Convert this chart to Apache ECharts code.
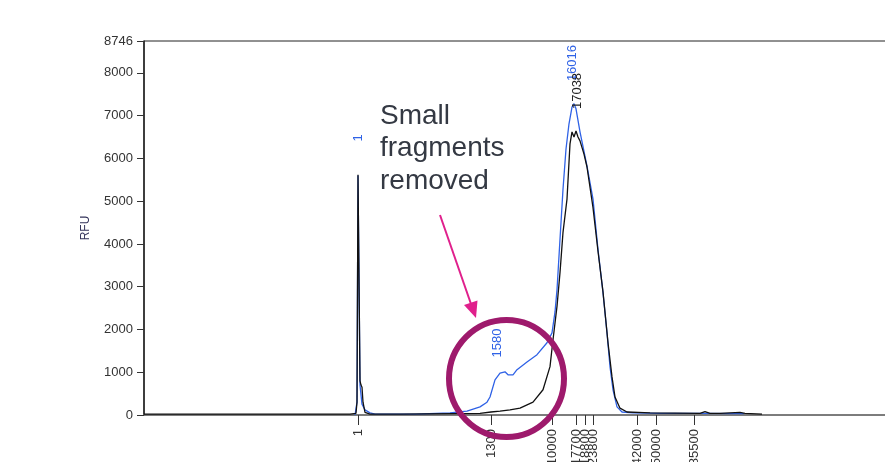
<!DOCTYPE html>
<html>
<head>
<meta charset="utf-8">
<script src="https://cdn.jsdelivr.net/npm/echarts@6/dist/echarts.min.js"></script>
<style>
  html, body { margin: 0; padding: 0; background: #fff; }
  #chart { width: 885px; height: 462px; }
</style>
</head>
<body>
<div id="chart"></div>
<script>
// x is the migration position along the trace (scan units), y is RFU
const blackTrace = [
  [0, 20], [206, 20], [212, 40], [213, 300], [214, 5620], [215, 5630], [216, 800],
  [217, 700], [218, 650], [219, 300], [221, 60], [226, 20], [256, 20], [336, 40],
  [347, 70], [356, 90], [366, 120], [376, 160], [389, 300], [399, 590], [406, 1130],
  [409, 1760], [413, 2540], [416, 3330], [419, 4270], [423, 5050], [426, 6340],
  [428, 6620], [430, 6500], [432, 6640], [434, 6500], [436, 6410], [440, 6100],
  [443, 5800], [449, 4850], [454, 3830], [459, 2880], [464, 1690], [468, 890],
  [471, 420], [476, 160], [483, 70], [506, 50], [556, 40], [561, 80], [566, 40],
  [576, 40], [596, 60], [601, 40], [618, 20]
];
const blueTrace = [
  [211, 0], [213, 300], [214, 5600], [215, 5600], [216, 700], [218, 250], [221, 120],
  [226, 50], [231, 20], [271, 20], [306, 50], [323, 90], [336, 190], [343, 300],
  [346, 420], [351, 820], [356, 980], [361, 1010], [364, 940], [369, 940], [373, 1060],
  [383, 1240], [393, 1410], [403, 1690], [408, 1920], [411, 2410], [413, 2930],
  [416, 4110], [419, 5280], [422, 6220], [425, 6810], [428, 7200], [430, 7280],
  [432, 7160], [436, 6620], [443, 5820], [449, 5050], [454, 3870], [459, 2860],
  [463, 1920], [466, 1130], [469, 590], [473, 190], [478, 70], [489, 50], [516, 40],
  [556, 40], [600, 30]
];

// size calls (bp) shown under the axis and where they sit on the trace
const sizeLabels = ['1', '1300', '10000', '17700', '18800', '23800', '42000', '50000', '85500'];
const sizePositions = [214, 347.5, 408, 432.7, 441, 449.3, 493.3, 512, 550];

const yTicks = [0, 1000, 2000, 3000, 4000, 5000, 6000, 7000, 8000, 8746];

// peak calls
const bluePeakNames = ['1', '1580', '16016'];
const bluePeakPoints = [[214, 5600], [353, 900], [428, 7200]];
const blackPeakNames = ['17038'];
const blackPeakPoints = [[433, 6640]];

const blue = '#2f62e6';
const black = '#111111';

function peakMarks(names, points, gaps, color) {
  return {
    symbol: 'circle',
    symbolSize: 0,
    silent: true,
    label: {
      show: true,
      position: 'top',
      rotate: 90,
      align: 'left',
      verticalAlign: 'middle',
      color: color,
      fontSize: 13,
      fontFamily: 'Liberation Sans, Arial, sans-serif',
      formatter: p => p.name
    },
    data: names.map((n, i) => ({
      name: n,
      coord: points[i],
      label: { distance: gaps[i] }
    }))
  };
}

const chart = echarts.init(document.getElementById('chart'));
chart.setOption({
  animation: false,
  grid: {
    left: 144, right: -3, top: 41, bottom: 47,
    containLabel: false,
    outerBoundsMode: 'none',
    show: true, borderColor: '#222', borderWidth: 1
  },
  xAxis: {
    type: 'value',
    min: 0,
    max: 744,
    axisLine: { lineStyle: { color: '#777', width: 1.5 } },
    axisTick: {
      show: true, length: 10, customValues: sizePositions,
      lineStyle: { color: '#333' }
    },
    axisLabel: {
      customValues: sizePositions,
      rotate: 90,
      margin: 14,
      fontSize: 13,
      color: '#333',
      fontFamily: 'Liberation Sans, Arial, sans-serif',
      formatter: v => sizeLabels[sizePositions.indexOf(v)]
    },
    splitLine: { show: false }
  },
  yAxis: {
    type: 'value',
    min: 0,
    max: 8746,
    name: 'RFU',
    nameLocation: 'middle',
    nameGap: 52,
    nameTextStyle: { color: '#33335a', fontSize: 12, fontFamily: 'Liberation Sans, Arial, sans-serif' },
    axisLine: { show: true, lineStyle: { color: '#222', width: 1.5 } },
    axisTick: { show: true, length: 7, customValues: yTicks, lineStyle: { color: '#333' } },
    axisLabel: {
      customValues: yTicks,
      margin: 11,
      fontSize: 13,
      color: '#333',
      fontFamily: 'Liberation Sans, Arial, sans-serif',
      formatter: v => String(v)
    },
    splitLine: { show: false }
  },
  series: [
    {
      name: 'After',
      type: 'line',
      data: blueTrace,
      symbol: 'none',
      z: 2,
      lineStyle: { color: blue, width: 1.3 },
      markPoint: peakMarks(bluePeakNames, bluePeakPoints, [34, 19, 26], blue)
    },
    {
      name: 'Before',
      type: 'line',
      data: blackTrace,
      symbol: 'none',
      z: 3,
      lineStyle: { color: black, width: 1.3 },
      markPoint: peakMarks(blackPeakNames, blackPeakPoints, [22], '#222')
    }
  ],
  graphic: [
    {
      type: 'text',
      left: 380,
      top: 100,
      z: 10,
      style: {
        text: 'Small\nfragments\nremoved',
        font: '28px "Liberation Sans", Arial, sans-serif',
        lineHeight: 32.5,
        fill: '#343943'
      }
    },
    {
      type: 'line',
      z: 10,
      shape: { x1: 440, y1: 215, x2: 471, y2: 304 },
      style: { stroke: '#e0208c', lineWidth: 2 }
    },
    {
      type: 'polygon',
      z: 10,
      shape: { points: [[476, 318], [464, 305], [477.5, 300.5]] },
      style: { fill: '#e0208c' }
    },
    {
      type: 'ellipse',
      z: 10,
      shape: { cx: 506.5, cy: 378.5, rx: 57.5, ry: 58.5 },
      style: { fill: 'none', stroke: '#9e1a6c', lineWidth: 6 }
    }
  ]
});
</script>
</body>
</html>
